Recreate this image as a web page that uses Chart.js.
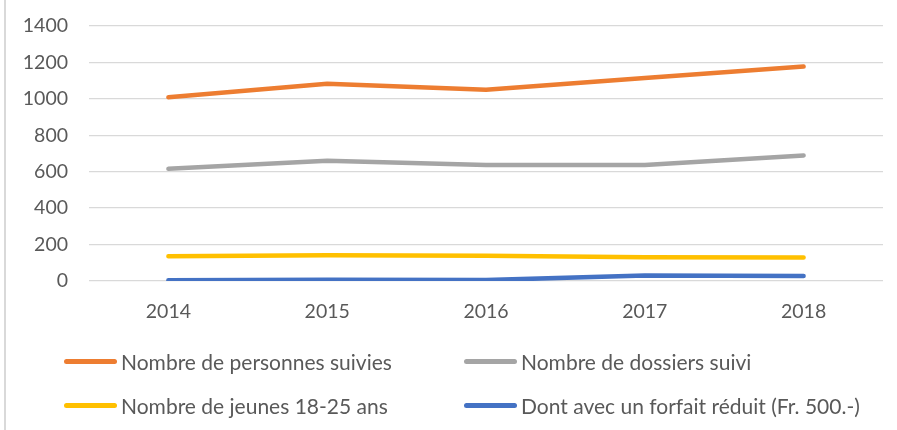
<!DOCTYPE html>
<html>
<head>
<meta charset="utf-8">
<script src="https://cdn.jsdelivr.net/npm/chart.js@4"></script>
<style>
  html, body { margin: 0; padding: 0; background: #fff; }
  #wrap { position: relative; width: 897px; height: 430px; font-family: Lato, "Liberation Sans", sans-serif; }
  #edge { position: absolute; left: 4px; top: 0; width: 0; height: 430px; border-left: 2px solid #d9d9d9; }
  .leg { position: absolute; display: flex; align-items: center; font-size: 21px; color: #595959; white-space: nowrap; }
  .leg i { display: inline-block; width: 53px; height: 5px; border-radius: 3px; margin-right: 4px; }
</style>
</head>
<body>
<div id="wrap">
  <canvas id="chart" width="897" height="430"></canvas>
  <div id="edge"></div>
  <div id="legend"></div>
</div>
<script>
const years = ["2014", "2015", "2016", "2017", "2018"];
const personnes = [1009, 1083, 1050, 1114, 1177];
const dossiers = [616, 660, 637, 637, 689];
const jeunes = [136, 141, 138, 130, 129];
const forfait = [4, 7, 5, 30, 28];
const seriesNames = [
  "Nombre de personnes suivies",
  "Nombre de dossiers suivi",
  "Nombre de jeunes 18-25 ans",
  "Dont avec un forfait réduit (Fr. 500.-)"
];
const colors = ["#ED7D31", "#A5A5A5", "#FFC000", "#4472C4"];
const yTicks = [0, 200, 400, 600, 800, 1000, 1200, 1400];

const font = { family: "Lato, 'Liberation Sans', sans-serif", size: 19.5 };
const values = [personnes, dossiers, jeunes, forfait];

const chart = new Chart("chart", {
  type: "line",
  data: {
    labels: years,
    datasets: values.map((v, i) => ({
      label: seriesNames[i],
      data: v,
      borderColor: colors[i],
      backgroundColor: colors[i],
      borderWidth: 4.5,
      borderCapStyle: "round",
      borderJoinStyle: "round",
      pointRadius: 0,
      tension: 0,
      fill: false,
      order: i
    }))
  },
  options: {
    responsive: false,
    animation: false,
    layout: { padding: { top: 26, right: 14, bottom: 99, left: 0 } },
    plugins: { legend: { display: false }, tooltip: { enabled: false } },
    scales: {
      x: {
        offset: true,
        grid: { display: false },
        border: { display: false },
        ticks: { color: "#595959", font: font, padding: 11, maxRotation: 0 },
        afterFit: s => { s.height = 50; s.paddingLeft = 0; s.paddingRight = 0; }
      },
      y: {
        min: 0,
        max: 1400,
        afterBuildTicks: s => { s.ticks = yTicks.map(v => ({ value: v })); },
        grid: { color: "#d9d9d9", lineWidth: 1.3, drawTicks: false },
        border: { display: false },
        ticks: { color: "#595959", font: font, padding: 21, callback: v => String(v) },
        afterFit: s => { s.width = 89; s.paddingTop = 0; s.paddingBottom = 0; }
      }
    }
  }
});

// legend, two columns
const legend = document.getElementById("legend");
const legPos = [[64, 361], [464, 361], [64, 405], [464, 405]];
chart.data.datasets.forEach((ds, i) => {
  const d = document.createElement("div");
  d.className = "leg";
  d.style.left = legPos[i][0] + "px";
  d.style.top = (legPos[i][1] - 13) + "px";
  d.style.height = "26px";
  d.innerHTML = '<i style="background:' + ds.borderColor + '"></i><span></span>';
  d.querySelector("span").textContent = ds.label;
  legend.appendChild(d);
});
</script>
</body>
</html>
